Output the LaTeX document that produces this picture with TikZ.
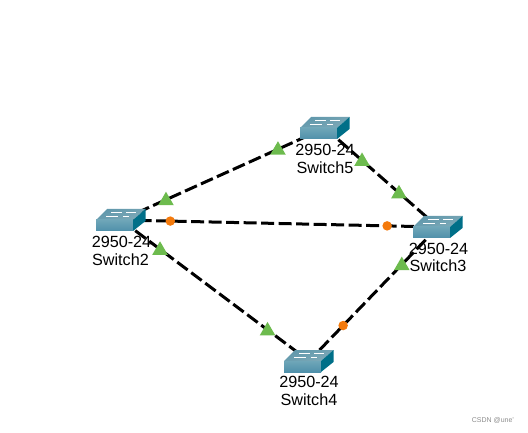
\documentclass[tikz,border=0pt]{standalone}
\usepackage{fontspec}
\setmainfont{Liberation Sans}
\usetikzlibrary{shapes.geometric}
\definecolor{swtop}{HTML}{7FAAB8}
\definecolor{swtopd}{HTML}{5F97AB}
\definecolor{swfront}{HTML}{4F90AA}
\definecolor{swfrontl}{HTML}{6FA6B8}
\definecolor{swside}{HTML}{006F88}
\definecolor{linkgreen}{HTML}{6DBB4E}
\definecolor{linkorange}{HTML}{F47A0C}
\tikzset{
  x=1pt,y=-1pt,
  anchorpt/.style={inner sep=0pt,minimum size=0pt},
  linkline/.style={line width=3pt,dash pattern=on 13pt off 4.5pt,black},
  upmark/.style={regular polygon,regular polygon sides=3,fill=linkgreen,inner sep=0pt,minimum size=18pt,yshift=-1pt},
  downmark/.style={circle,fill=linkorange,inner sep=0pt,minimum size=9.5pt},
  swlabel/.style={inner sep=0pt,font=\fontsize{16.2}{18}\selectfont,text=black},
  mark line/.style={white,line width=0.6pt},
  switchicon/.pic={
    \path[top color=swtopd,bottom color=swtop,shading angle=20] (-25,0) -- (-14,-11) -- (24.5,-11) -- (12,0) -- cycle;
    \path[top color=swfrontl,bottom color=swfront] (-25,0) rectangle (12,11);
    \path[fill=swside] (12,0) -- (24.5,-11) -- (24.5,1) -- (12,11) -- cycle;
    \draw[mark line] (-15,-3.5) -- (-3,-3.5);
    \draw[mark line] (-10,-8) -- (1,-8);
    \draw[mark line] (5,-8) -- (15,-8);
    \draw[mark line] (2,-3.5) -- (8,-3.5);
  }
}
\begin{document}
\begin{tikzpicture}
\useasboundingbox (0,0) rectangle (528,433);
\node[anchorpt] (s2) at (121,220) {};
\node[anchorpt] (s3) at (438,227) {};
\node[anchorpt] (s4) at (309,361) {};
\node[anchorpt] (s5) at (325,128) {};
\draw[linkline] (s2) -- node[pos=.22,upmark] (m25a) {} node[pos=.77,upmark] (m25b) {} (s5);
\draw[linkline] (s5) -- node[pos=.327,upmark] (m53a) {} node[pos=.655,upmark] (m53b) {} (s3);
\draw[linkline] (s2) -- node[pos=.155,downmark] (m23a) {} node[pos=.84,downmark] (m23b) {} (s3);
\draw[linkline] (s2) -- node[pos=.207,upmark] (m24a) {} node[pos=.78,upmark] (m24b) {} (s4);
\draw[linkline] (s3) -- node[pos=.28,upmark] (m34a) {} node[pos=.736,downmark] (m34b) {} (s4);
\pic at (s2) {switchicon};
\pic at (s3) {switchicon};
\pic at (s4) {switchicon};
\pic at (s5) {switchicon};
\node[swlabel] (l5a) at (325,150) {2950-24};
\node[swlabel] (l5b) at (325,168) {Switch5};
\node[swlabel] (l2a) at (121.5,242) {2950-24};
\node[swlabel] (l2b) at (120.5,260) {Switch2};
\node[swlabel] (l3a) at (438.5,249) {2950-24};
\node[swlabel] (l3b) at (438,266) {Switch3};
\node[swlabel] (l4a) at (309,382) {2950-24};
\node[swlabel] (l4b) at (309,400) {Switch4};
\node[inner sep=0pt,font=\fontsize{7}{8}\selectfont,text=black!45] (wm) at (493,420) {CSDN @une'};
\end{tikzpicture}
\end{document}
